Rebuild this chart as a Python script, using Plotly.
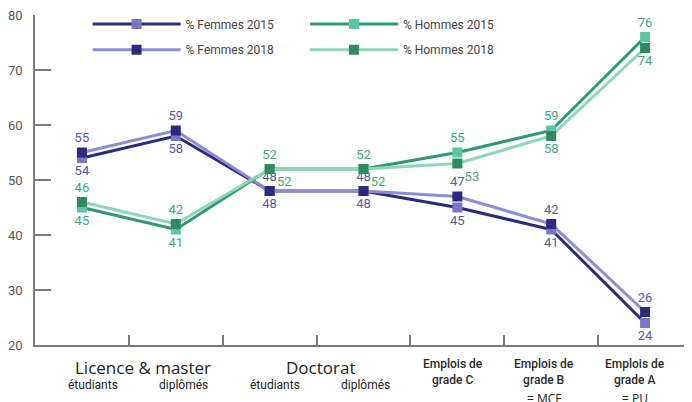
import plotly.graph_objects as go

# ---------------- data ----------------
categories = ["Licence étudiants", "Licence diplômés", "Doctorat étudiants",
              "Doctorat diplômés", "Emplois grade C", "Emplois grade B", "Emplois grade A"]
femmes_2015 = [54, 58, 48, 48, 45, 41, 24]
femmes_2018 = [55, 59, 48, 48, 47, 42, 26]
hommes_2015 = [45, 41, 52, 52, 55, 59, 76]
hommes_2018 = [46, 42, 52, 52, 53, 58, 74]

series_names = ["% Femmes 2015", "% Femmes 2018", "% Hommes 2015", "% Hommes 2018"]

group_labels = ["Licence & master", "Doctorat"]
sub_labels = ["étudiants", "diplômés", "étudiants", "diplômés"]
emploi_labels = ["Emplois de<br>grade C", "Emplois de<br>grade B", "Emplois de<br>grade A"]
emploi_notes = ["", "= MCF", "= PU"]

y_ticks = [20, 30, 40, 50, 60, 70, 80]

# ---------------- style ----------------
COND = 'Roboto, "Liberation Sans", sans-serif'
SANS = '"Open Sans", "Lato", sans-serif'

F_DARK = "#2c2a7c"
F_LIGHT_LINE = "#908cd4"
F_LIGHT_MARK = "#7a75c4"
H_DARK_LINE = "#2f9a6d"
H_DARK_MARK = "#2f8a5f"
H_LIGHT_LINE = "#8dd7b7"
H_LIGHT_MARK = "#5cc6a2"
F_TXT = "#5b56a6"
H_TXT = "#3ba67f"
AX = "#7a7a7a"

x = list(range(len(categories)))

specs = [
    (femmes_2015, F_DARK, F_LIGHT_MARK, F_TXT, ["bottom center"] * 7, "legend"),
    (femmes_2018, F_LIGHT_LINE, F_DARK, F_TXT, ["top center"] * 7, "legend2"),
    (hommes_2015, H_DARK_LINE, H_LIGHT_MARK, H_TXT,
     ["bottom center", "bottom center", "top center", "top center", "top center", "top center", "top center"],
     "legend3"),
    (hommes_2018, H_LIGHT_LINE, H_DARK_MARK, H_TXT,
     ["top center", "top center", "bottom right", "bottom right", "bottom right", "bottom center", "bottom center"],
     "legend4"),
]

fig = go.Figure()
for name, (vals, lc, mc, tc, tpos, leg) in zip(series_names, specs):
    fig.add_trace(go.Scatter(
        x=x, y=vals, name=name, mode="lines+markers+text",
        line=dict(color=lc, width=3),
        marker=dict(symbol="square", size=10, color=mc),
        text=[str(v) for v in vals], textposition=tpos,
        textfont=dict(family=COND, size=13, color=tc),
        legend=leg, cliponaxis=False,
    ))

# the page adds an 8px body margin: figure is sized/offset to compensate
OFF = 8
W, H = 692 - OFF, 402 - OFF
ml, mr, mt, mb = 22, 0, 5, 57
pw, ph = W - ml - mr, H - mt - mb


def px2paper(px, py):
    return (px - OFF - ml) / pw, (H - mb - (py - OFF)) / ph


legend_pos = {"legend": (83, 24), "legend2": (83, 50), "legend3": (302, 24), "legend4": (302, 50)}
legend_common = dict(font=dict(family=COND, size=12, color="#444444"), itemwidth=88,
                     bgcolor="rgba(0,0,0,0)", borderwidth=0, xanchor="left", yanchor="middle")
legends = {}
for k, (lx, ly) in legend_pos.items():
    xx, yy = px2paper(lx, ly - 2)
    legends[k] = dict(x=xx, y=yy, **legend_common)

annotations = []
group_x = [0.5, 2.5]
group_shift = [14, 4]
for lab, gx, gs in zip(group_labels, group_x, group_shift):
    annotations.append(dict(x=gx, y=0, xref="x", yref="paper", text=lab, showarrow=False,
                            xshift=gs, yshift=-22, yanchor="middle",
                            font=dict(family=SANS, size=17, color="#222222")))
sub_shift = [11, 8, 5, 2]
for i, (lab, s) in enumerate(zip(sub_labels, sub_shift)):
    annotations.append(dict(x=i, y=0, xref="x", yref="paper", text=lab, showarrow=False,
                            xshift=s, yshift=-40, yanchor="middle",
                            font=dict(family=COND, size=12, color="#222222")))
emp_shift = [-4, -7, -10]
for j, (lab, note, s) in enumerate(zip(emploi_labels, emploi_notes, emp_shift)):
    ci = 4 + j
    annotations.append(dict(x=ci, y=0, xref="x", yref="paper", text=lab,
                            showarrow=False, xshift=s, yshift=-27, yanchor="middle",
                            font=dict(family=COND, size=12, color="#2a2a2a", weight=500)))
    if note:
        annotations.append(dict(x=ci, y=0, xref="x", yref="paper", text=note, showarrow=False,
                                xshift=s, yshift=-53, yanchor="middle",
                                font=dict(family=SANS, size=12, color="#222222")))

fig.update_layout(
    width=W, height=H,
    margin=dict(l=ml, r=mr, t=mt, b=mb, pad=0),
    paper_bgcolor="white", plot_bgcolor="white",
    showlegend=True,
    annotations=annotations,
    xaxis=dict(range=[-0.5, 6.5], showgrid=False, zeroline=False,
               showline=True, linecolor=AX, linewidth=1.5,
               tickmode="array", tickvals=[0.5, 1.5, 2.5, 3.5, 4.5, 5.5], ticktext=[""] * 6,
               ticks="inside", ticklen=10, tickcolor=AX, tickwidth=1.5, showticklabels=False),
    yaxis=dict(range=[20, 80], showgrid=False, zeroline=False,
               showline=True, linecolor=AX, linewidth=1.5,
               tickmode="array", tickvals=y_ticks,
               ticks="inside", ticklen=16, tickcolor=AX, tickwidth=1.5,
               ticklabeloverflow="allow",
               tickfont=dict(family=COND, size=13, color="#555555"), ticklabelstandoff=8),
    **legends,
)

fig.write_html("out.html")
